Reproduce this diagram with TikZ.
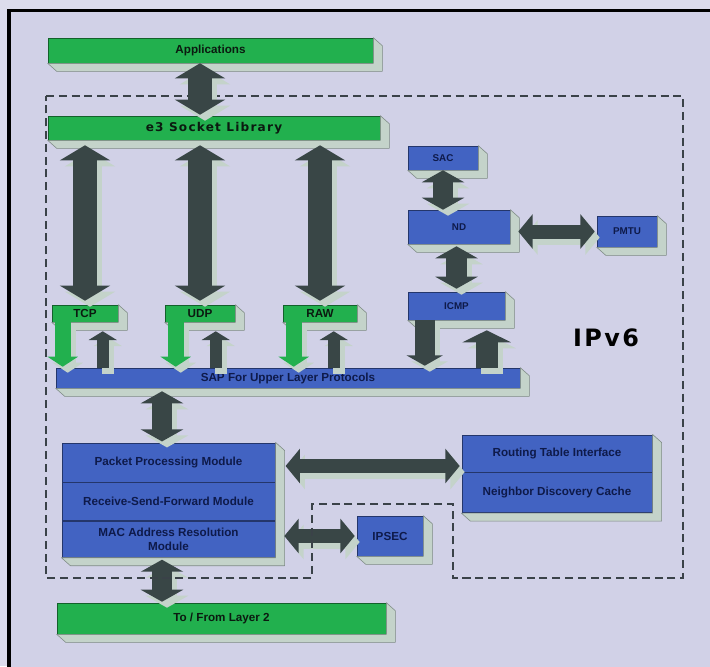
\documentclass[tikz,border=0pt]{standalone}
\usepackage{fontspec}
\setmainfont{Liberation Sans}
\newfontfamily\heavy[LetterSpace=10]{DejaVu Sans}
\usetikzlibrary{positioning,arrows.meta,calc,fit}
\definecolor{ink}{HTML}{0B1A10}
\definecolor{navy}{HTML}{0E1A4A}
\definecolor{cPage}{HTML}{DCDCEC}
\definecolor{cBack}{HTML}{D1D1E7}
\definecolor{cGreen}{HTML}{22B04E}
\definecolor{cBlue}{HTML}{4263C2}
\definecolor{cArrow}{HTML}{394646}
\definecolor{cSide}{HTML}{C4D3CA}
\definecolor{cEdge}{HTML}{7D8A84}
\definecolor{cDash}{HTML}{3A4248}
\newcommand{\lbl}{\fontsize{8.3}{9.5}\selectfont\bfseries}
\newcommand{\slbl}{\fontsize{7}{8}\selectfont\bfseries}
\tikzset{
  box/.style    = {rectangle, inner sep=1pt, align=center, font=\lbl, line width=0.4pt},
  grn/.style    = {box, fill=cGreen, draw=cGreen!55!black, text=ink},
  blu/.style    = {box, fill=cBlue, draw=cBlue!55!black, text=navy},
  side/.style   = {fill=cSide, draw=cEdge, line width=0.4pt, line join=round},
  copy3d/.style = {draw=cSide, transform canvas={shift={(5,6)}}},
  arr/.style    = {draw=cArrow, line cap=butt},
  wide/.style   = {arr, line width=0.62cm, arrows={Triangle[length=0.38cm,width=1.25cm]-Triangle[length=0.38cm,width=1.25cm]}},
  mid/.style    = {arr, line width=0.52cm, arrows={Triangle[length=0.3cm,width=1.05cm]-Triangle[length=0.3cm,width=1.05cm]}},
  flat/.style   = {arr, line width=0.35cm, arrows={Triangle[length=0.36cm,width=0.85cm]-Triangle[length=0.36cm,width=0.85cm]}},
  gdown/.style  = {draw=cGreen, line cap=butt, line width=0.4cm, arrows={-Triangle[length=0.25cm,width=0.75cm]}},
  up/.style     = {arr, line width=0.3cm, arrows={-Triangle[length=0.22cm,width=0.7cm]}},
  down/.style   = {arr, line width=0.5cm, arrows={-Triangle[length=0.26cm,width=0.9cm]}},
  bigup/.style  = {arr, line width=0.55cm, arrows={-Triangle[length=0.3cm,width=1.2cm]}},
  dashline/.style = {draw=cDash, line width=1.3pt, dash pattern=on 0.2cm off 0.12cm},
}
% side faces of a box, offset down and right
\newcommand{\extrude}[1]{%
  \filldraw[side] (#1.north east) -- ($(#1.north east)+(9,8)$) -- ($(#1.south east)+(9,8)$)
    -- ($(#1.south west)+(9,8)$) -- (#1.south west) -- (#1.south east) -- cycle;}
% block arrow with its light side
\newcommand{\link}[3]{\draw[#1, copy3d] #2 -- #3; \draw[#1] #2 -- #3;}

\begin{document}
\begin{tikzpicture}[x=0.025cm, y=-0.025cm]
  \clip (0,0) rectangle (710,666);
  \fill[cPage] (0,0) rectangle (710,666);
  \fill[cBack] (9,10) rectangle (760,700);
  \draw[line width=0.075cm] (9,700) -- (9,10) -- (760,10);

  % ---------------- top bars ----------------
  \node[grn, minimum width=8.125cm, minimum height=0.625cm] (app) at (210.5,50.5) {Applications};
  \extrude{app}
  \node[grn, minimum width=8.3cm, minimum height=0.6cm, font=\heavy\fontsize{8.6}{10}\selectfont\bfseries] (sock) at (214,128) {e3 Socket Library};
  \extrude{sock}

  % ---------------- transport ----------------
  \foreach \p/\cx/\w/\t in {tcp/85/1.65cm/TCP, udp/200/1.75cm/UDP, raw/320/1.85cm/RAW} {
    \node[grn, minimum width=\w, minimum height=0.425cm] (\p) at (\cx,313.5) {\t};
    \extrude{\p}
  }
  \node[blu, minimum width=11.6cm, minimum height=0.5cm] (sap) at (288,378) {SAP For Upper Layer Protocols};
  \extrude{sap}

  % ---------------- ICMP side ----------------
  \node[blu, font=\slbl, minimum width=1.75cm, minimum height=0.6cm] (sac) at (443,158) {SAC};
  \extrude{sac}
  \node[blu, font=\slbl, minimum width=2.55cm, minimum height=0.85cm] (nd) at (459,227) {ND};
  \extrude{nd}
  \node[blu, font=\slbl, minimum width=1.5cm, minimum height=0.775cm] (pmtu) at (627,231.5) {PMTU};
  \extrude{pmtu}
  \node[blu, font=\slbl, minimum width=2.425cm, minimum height=0.7cm] (icmp) at (456.5,306) {ICMP};
  \extrude{icmp}
  \node[font=\heavy\fontsize{17}{20}\selectfont\bfseries, text=black] (ipv6) at (606,338) {IPv6};

  % ---------------- core modules ----------------
  \node[blu, minimum width=5.325cm, minimum height=0.975cm] (ppm) at (168.5,462.5) {Packet Processing Module};
  \node[blu, minimum width=5.325cm, minimum height=0.95cm, below=0pt of ppm] (rsf) {Receive-Send-Forward Module};
  \node[blu, minimum width=5.325cm, minimum height=0.9cm, below=0pt of rsf] (mac) {MAC Address Resolution\\Module};
  \node[fit=(ppm)(mac), inner sep=0pt] (core) {};
  \extrude{core}
  \node[blu, minimum width=4.75cm, minimum height=0.925cm] (rti) at (557,453.5) {Routing Table Interface};
  \node[blu, minimum width=4.75cm, minimum height=1.0cm, below=0pt of rti] (ndc) {Neighbor Discovery Cache};
  \node[fit=(rti)(ndc), inner sep=0pt] (rtab) {};
  \extrude{rtab}
  \node[blu, minimum width=1.65cm, minimum height=1.0cm] (ipsec) at (390,536) {IPSEC};
  \extrude{ipsec}
  \node[grn, minimum width=8.225cm, minimum height=0.775cm] (l2) at (221.5,618.5) {To / From Layer 2};
  \extrude{l2}

  % ---------------- arrows ----------------
  \foreach \p in {tcp,udp,raw} {
    \link{wide}{($(sock.south -| \p)+(0,5)$)}{($(\p.north)+(0,-4)$)}
    \coordinate (\p-g) at ($(\p.south west)+(11,0)$);
    \coordinate (\p-u) at ($(\p.south west)+(51,9)$);
    \link{gdown}{(\p-g)}{($(\p-g |- sap.north)+(0,-1)$)}
    \link{up}{(\p-u |- sap.north)}{(\p-u)}
  }
  \link{mid}{(sac.south)}{(nd.north -| sac.south)}
  \link{mid}{($(icmp.north |- nd.south)+(0,2)$)}{($(icmp.north)+(0,-3)$)}
  \link{flat}{($(nd.east |- pmtu.west)+(8,0)$)}{($(pmtu.west)+(-2,0)$)}
  \coordinate (icd) at ($(icmp.south west)+(17,0)$);
  \coordinate (icu) at ($(icmp.south west)+(79,10)$);
  \link{down}{(icd)}{($(icd |- sap.north)+(0,-2)$)}
  \link{bigup}{(icu |- sap.north)}{(icu)}

  \coordinate (cx) at (162,0);
  \coordinate (hy) at (0,466);
  \link{mid}{($(sap.south -| cx)+(0,3)$)}{($(core.north -| cx)+(0,-1)$)}
  \link{flat}{($(core.east |- hy)+(10,0)$)}{($(rti.west |- hy)+(-2,0)$)}
  \link{flat}{($(mac.east |- ipsec.west)+(9,0)$)}{($(ipsec.west)+(-2,0)$)}
  \link{mid}{($(core.south -| cx)+(0,2)$)}{($(l2.north -| cx)+(0,-1)$)}

  % ---------------- IPv6 region ----------------
  \draw[dashline] (46,96) -| (683,578) -| (453,504) -| (312,578) -- (46,578) -- cycle;
  \coordinate (ax) at (200,0);
  \link{wide}{(app.south -| ax)}{($(sock.north -| ax)+(0,-1)$)}
\end{tikzpicture}
\end{document}
